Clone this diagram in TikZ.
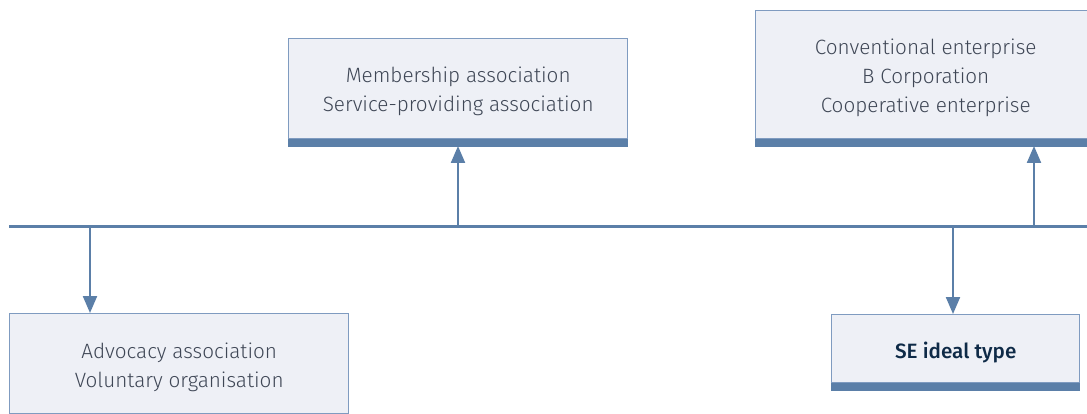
\documentclass[tikz,border=0pt]{standalone}
\usepackage{fontspec}
\setmainfont{Fira Sans}[UprightFont=* Light, BoldFont=* Medium]
\usetikzlibrary{arrows.meta}
\definecolor{boxfill}{HTML}{EEF0F6}
\definecolor{boxedge}{HTML}{7F9BC0}
\definecolor{barcol}{HTML}{5B7FA8}
\definecolor{txt}{HTML}{3F4756}
\definecolor{navy}{HTML}{0E2A47}
\tikzset{
  card/.style={draw=boxedge, line width=1.4pt, fill=boxfill, inner sep=0pt, anchor=north west},
  cardtext/.style={inner sep=0pt, align=center, font=\fontsize{20.7}{29}\selectfont, text=txt},
  conn/.style={draw=barcol, line width=2.2pt, -{Triangle[length=17pt,width=14pt]}},
}
\begin{document}
\begin{tikzpicture}[x=1pt,y=-1pt]
\useasboundingbox (0,0) rectangle (1087,414);
% boxes
\node[card, minimum width=339pt, minimum height=100pt] (mem) at (288,38) {};
\fill[barcol] (mem.south west) rectangle ([yshift=-8pt]mem.south east);
\node[cardtext] (memt) at ([yshift=-3pt]mem.center) {Membership association\\Service-providing association};
\node[card, minimum width=340pt, minimum height=128pt] (conv) at (755,10) {};
\fill[barcol] (conv.south west) rectangle ([yshift=-8pt]conv.south east);
\node[cardtext] (convt) at ([yshift=-3pt]conv.center) {Conventional enterprise\\B Corporation\\Cooperative enterprise};
\node[card, minimum width=339pt, minimum height=100pt] (adv) at (9,313) {};
\node[cardtext] (advt) at ([yshift=-4pt]adv.center) {Advocacy association\\Voluntary organisation};
\node[card, minimum width=248pt, minimum height=68pt] (se) at (831,314) {};
\fill[barcol] (se.south west) rectangle ([yshift=-8pt]se.south east);
\node[cardtext, text=navy, font=\fontsize{20.7}{29}\selectfont\bfseries] (set) at ([yshift=-4pt]se.center) {SE ideal type};
% axis
\coordinate (la) at (9,226.5);
\coordinate (ra) at (1087,226.5);
\draw[barcol, line width=2.2pt] (la) -- (ra);
\coordinate (a1) at (90,226.5);
\coordinate (a2) at (458,226.5);
\coordinate (a3) at (1034,226.5);
\coordinate (a4) at (953,226.5);
\coordinate (m2) at (458,146);
\coordinate (m3) at (1034,146);
\draw[conn] (a1) -- (a1 |- adv.north);
\draw[conn] (a2) -- (m2);
\draw[conn] (a3) -- (m3);
\draw[conn] (a4) -- (a4 |- se.north);
\end{tikzpicture}
\end{document}
